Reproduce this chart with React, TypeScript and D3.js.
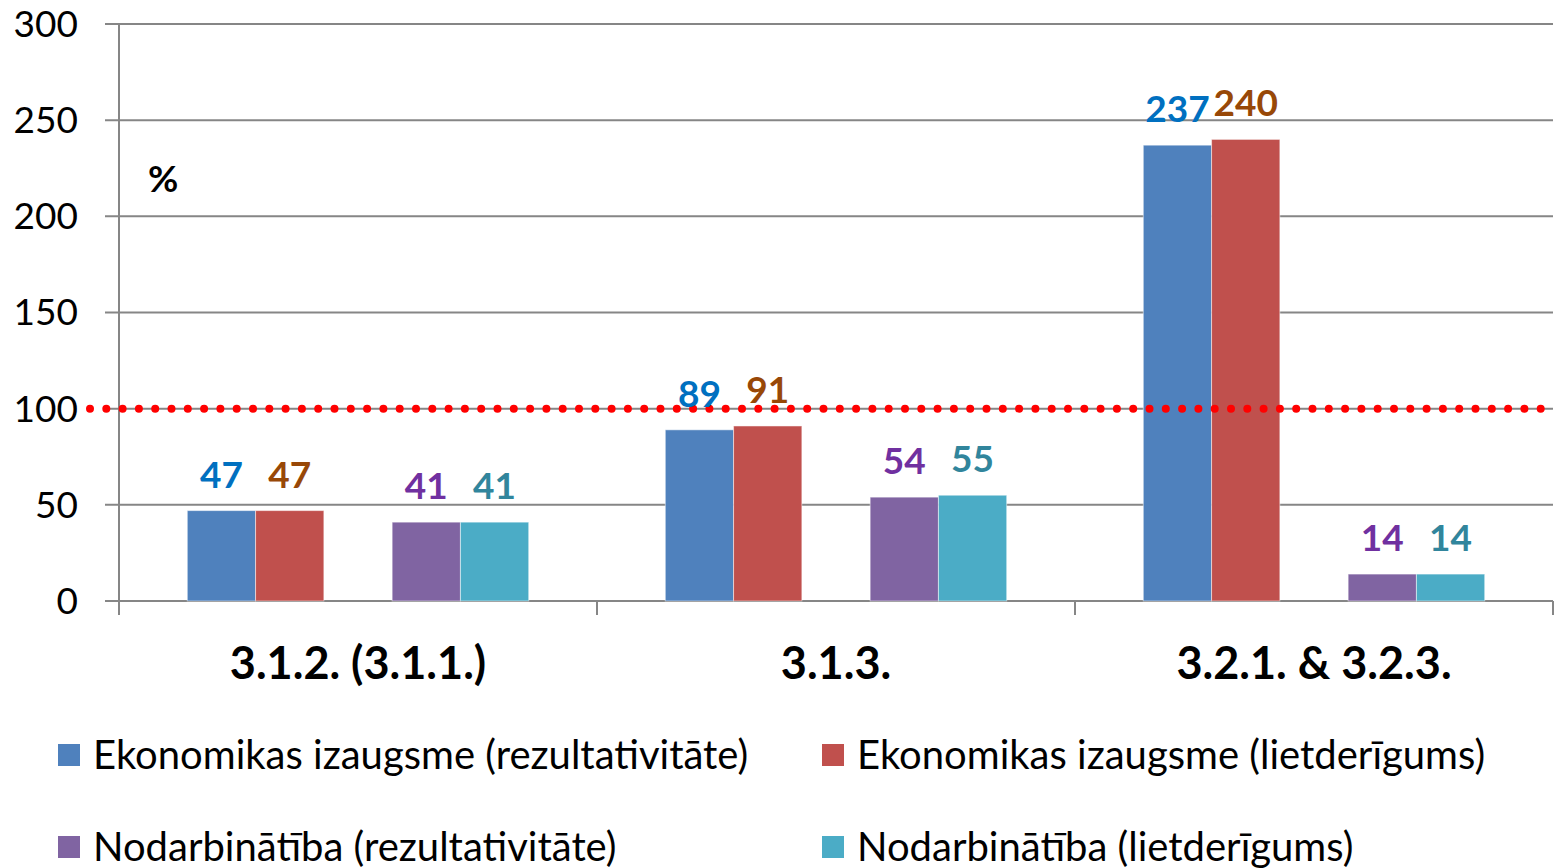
import * as d3 from 'd3'

const categories = ['3.1.2. (3.1.1.)', '3.1.3.', '3.2.1. & 3.2.3.']
const seriesNames = [
  'Ekonomikas izaugsme (rezultativitāte)',
  'Ekonomikas izaugsme (lietderīgums)',
  'Nodarbinātība (rezultativitāte)',
  'Nodarbinātība (lietderīgums)',
]
const ekRez = [47, 89, 237]
const ekLiet = [47, 91, 240]
const nodRez = [41, 54, 14]
const nodLiet = [41, 55, 14]
const yTicks = [0, 50, 100, 150, 200, 250, 300]
const targetLine = 100

const barColors = ['#4F81BD', '#C0504D', '#8064A2', '#4BACC6']
const labelColors = ['#0070C0', '#984807', '#7030A0', '#31859C']
// slot of each series inside a group (slot 2 stays empty)
const slots = [0, 1, 3, 4]

const width = 1556
const height = 868
const left = 119
const right = 1553
const top = 24
const bottom = 601
const font = 'Lato, "Open Sans", sans-serif'

const App = () => {
  const values = [ekRez, ekLiet, nodRez, nodLiet]
  const x0 = d3.scaleBand<string>().domain(categories).range([left, right])
  const x1 = d3.scaleBand<number>().domain([0, 1, 2, 3, 4]).range([0, x0.bandwidth()]).paddingOuter(1)
  const y = d3.scaleLinear().domain([0, 300]).range([bottom, top])

  return (
    <svg width={width} height={height} style={{ position: 'absolute', left: 0, top: 0 }} fontFamily={font}>
      <rect width={width} height={height} fill="#fff" />
      {yTicks.map(t => (
        <g key={t}>
          <line x1={105} x2={right} y1={y(t)} y2={y(t)} stroke="#868686" strokeWidth={2} />
          <text x={78} y={y(t)} dy="0.35em" textAnchor="end" fontSize={37} fill="#000">{t}</text>
        </g>
      ))}
      <line x1={left} x2={left} y1={top} y2={bottom} stroke="#868686" strokeWidth={2} />
      {[...categories.map(c => x0(c)!), right].map((xv, i) => (
        <line key={i} x1={xv} x2={xv} y1={bottom} y2={615} stroke="#868686" strokeWidth={2} />
      ))}
      {values.map((vals, s) =>
        vals.map((v, i) => {
          const bx = x0(categories[i])! + x1(slots[s])!
          return (
            <rect key={`${s}-${i}`} x={bx} y={y(v)} width={x1.bandwidth()} height={y(0) - y(v)}
              fill={barColors[s]} stroke="#fff" strokeOpacity={0.5} strokeWidth={1} />
          )
        })
      )}
      <line x1={90} x2={right} y1={y(targetLine)} y2={y(targetLine)} stroke="#FF0000" strokeWidth={8}
        strokeLinecap="round" strokeDasharray="0 16.3" />
      {values.map((vals, s) =>
        vals.map((v, i) => {
          const cx = x0(categories[i])! + x1(slots[s])! + x1.bandwidth() / 2
          return (
            <text key={`l${s}-${i}`} x={cx} y={y(v) - 23} textAnchor="middle" fontSize={37}
              fontWeight="bold" fill={labelColors[s]}>{v}</text>
          )
        })
      )}
      <text x={148} y={192} fontSize={37} fontWeight="bold" fill="#000">%</text>
      {categories.map(c => (
        <text key={c} x={x0(c)! + x0.bandwidth() / 2} y={679} textAnchor="middle" fontSize={45}
          fontWeight="bold" fill="#000">{c}</text>
      ))}
      {seriesNames.map((n, s) => {
        const lx = s % 2 === 0 ? 58 : 822
        const ly = s < 2 ? 755 : 847
        return (
          <g key={n}>
            <rect x={lx} y={ly - 11} width={22} height={22} fill={barColors[s]} />
            <text x={lx + 35} y={ly} dy="0.35em" fontSize={40} fill="#000">{n}</text>
          </g>
        )
      })}
    </svg>
  )
}

export default App
